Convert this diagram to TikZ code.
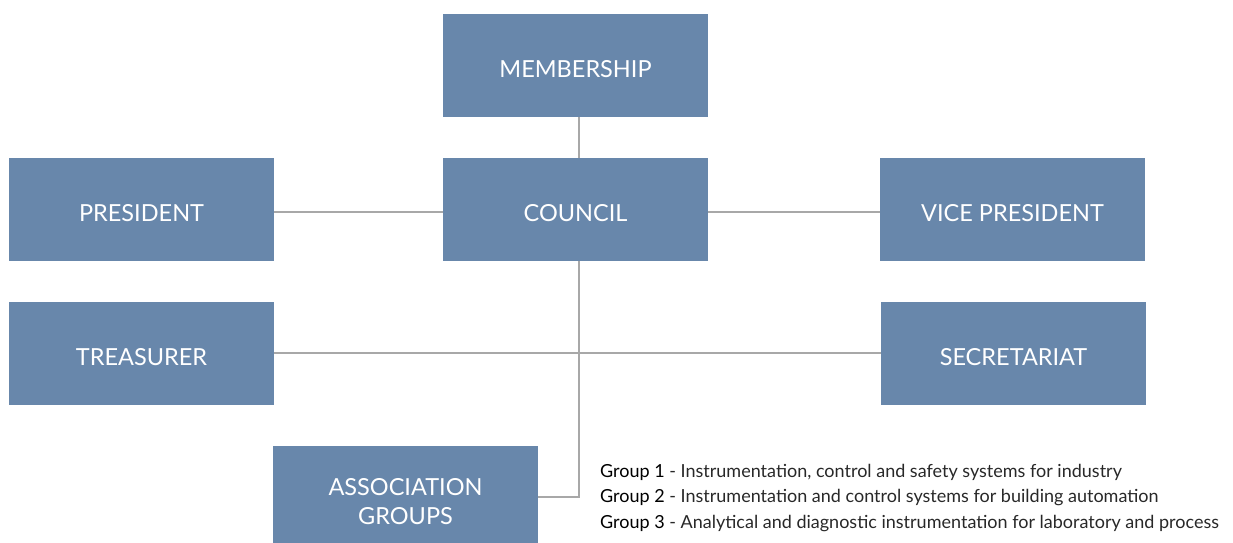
\documentclass[tikz,border=0pt]{standalone}
\usepackage{fontspec}
\setmainfont{Lato}
\definecolor{boxblue}{RGB}{104,135,171}
\definecolor{linegray}{RGB}{168,168,168}
\definecolor{legtext}{RGB}{40,40,40}
\begin{document}
\begin{tikzpicture}[x=1pt,y=-1pt,
  basebox/.style={fill=boxblue,draw=none,minimum width=265pt,minimum height=103pt,
    text=white,font=\fontsize{23.5}{29}\selectfont,align=center,inner sep=0pt},
  orgbox/.style={basebox,text height=23pt,text depth=0pt},
  link/.style={draw=linegray,line width=1.1pt}]
\useasboundingbox (0,0) rectangle (1233,542);
\clip (0,0) rectangle (1233,542);
\node[orgbox] (mem) at (575.5,65.5) {MEMBERSHIP};
\node[orgbox] (council) at (575.5,209.5) {COUNCIL};
\node[orgbox] (pres) at (141.5,209.5) {PRESIDENT};
\node[orgbox] (vice) at (1012.5,209.5) {VICE PRESIDENT};
\node[orgbox] (treas) at (141.5,353.5) {TREASURER};
\node[orgbox] (secr) at (1013.5,353.5) {SECRETARIAT};
\node[basebox,minimum height=112pt] (assoc) at (405.5,502) {ASSOCIATION\\GROUPS};
\coordinate (corner) at (579,497);
\coordinate (cross) at (579,353);
\draw[link] (mem.south -| corner) -- (council.north -| corner);
\draw[link] (pres.east |- 0,212) -- (council.west |- 0,212);
\draw[link] (council.east |- 0,212) -- (vice.west |- 0,212);
\draw[link] (treas.east |- cross) -- (secr.west |- cross);
\draw[link] (council.south -| corner) -- (corner) -- (assoc.east |- corner);
\node[anchor=north west,align=left,inner sep=0pt,text=legtext,
  font=\fontsize{18}{25.5}\selectfont] (legend) at (600,464)
  {\textcolor{black}{Group 1} - Instrumentation, control and safety systems for industry\\
   \textcolor{black}{Group 2} - Instrumentation and control systems for building automation\\
   \textcolor{black}{Group 3} - Analytical and diagnostic instrumentation for laboratory and process};
\end{tikzpicture}
\end{document}
